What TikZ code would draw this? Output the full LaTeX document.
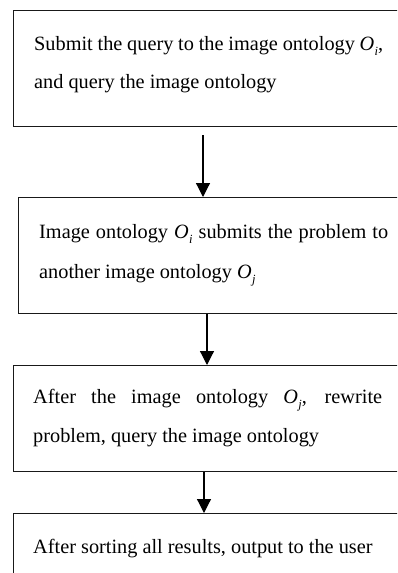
\documentclass[tikz,border=0pt]{standalone}
\usepackage{fontspec}
\setmainfont{Liberation Serif}
\usetikzlibrary{arrows.meta,positioning}

% italic ontology symbol O with an italic subscript
\newcommand\ontosym[1]{\textit{O}\kern0.3pt\raisebox{-0.25em}{\fontsize{12.5}{12.5}\selectfont\textit{#1}}}

\begin{document}
\begin{tikzpicture}[x=1pt,y=-1pt,
  flowbox/.style={draw=black!90, line width=1.4pt, rectangle, inner sep=0pt,
                  anchor=north west},
  txt/.style={inner sep=0pt, anchor=base west, font=\fontsize{20.3}{24}\selectfont},
  arr/.style={line width=1.2pt, -{Triangle[width=14pt,length=14pt]}}]
  \useasboundingbox (0,0) rectangle (397,573);
  \clip (0,0) rectangle (397,573);

  % step boxes (open to the right and, for the last one, to the bottom)
  \node[flowbox, minimum width=395pt, minimum height=116pt] (b1) at (13,10)  {};
  \node[flowbox, minimum width=390pt, minimum height=116pt] (b2) at (18,197) {};
  \node[flowbox, minimum width=395pt, minimum height=106pt] (b3) at (13,365) {};
  \node[flowbox, minimum width=395pt, minimum height=90pt]  (b4) at (13,513) {};

  % box texts
  \node[txt] (t1a) at (34,50) {\makebox[349pt][s]{Submit the query to the image ontology \ontosym{i},}};
  \node[txt] (t1b) at (34,88) {and query the image ontology};
  \node[txt] (t2a) at (39,238) {\makebox[349pt][s]{Image ontology \ontosym{i} submits the problem to}};
  \node[txt] (t2b) at (39,278) {another image ontology \ontosym{j}};
  \node[txt] (t3a) at (33,403) {\makebox[349pt][s]{After the image ontology \ontosym{j}, rewrite}};
  \node[txt] (t3b) at (33,442) {problem, query the image ontology};
  \node[txt] (t4a) at (33,553) {After sorting all results, output to the user};

  % connectors
  \coordinate (s1) at (203,135);
  \coordinate (x2) at (207,0);
  \coordinate (x3) at (204,0);
  \draw[arr] (s1) -- (s1 |- b2.north);
  \draw[arr] (b2.south -| x2) -- (b3.north -| x2);
  \draw[arr] (b3.south -| x3) -- (b4.north -| x3);
\end{tikzpicture}
\end{document}
